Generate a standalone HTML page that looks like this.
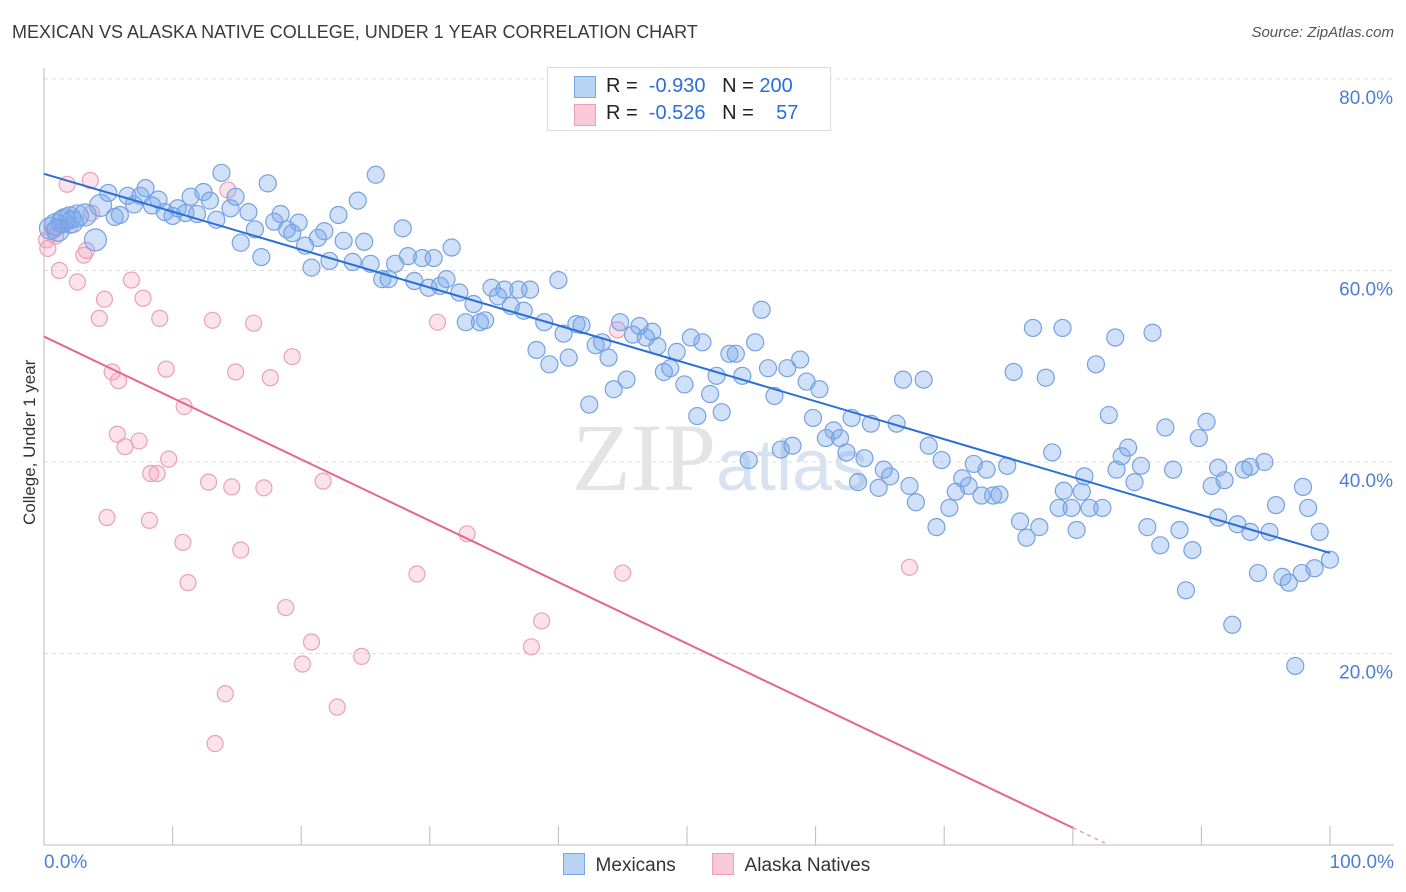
<!DOCTYPE html>
<html><head><meta charset="utf-8">
<style>
body{margin:0;background:#fff;font-family:"Liberation Sans",sans-serif;}
#wrap{position:relative;width:1406px;height:892px;overflow:hidden;}
.t{position:absolute;white-space:nowrap;}
</style></head>
<body>
<div id="wrap">
<div class="t" style="left:12px;top:22px;font-size:18px;color:#3a3a3a;">MEXICAN VS ALASKA NATIVE COLLEGE, UNDER 1 YEAR CORRELATION CHART</div>
<div class="t" style="right:12px;top:24px;font-size:15px;color:#555;font-style:italic;">Source: ZipAtlas.com</div>
<svg id="svg" width="1406" height="892" style="position:absolute;left:0;top:0"></svg>
</div>
<script>
const xTickVals=[0,10,20,30,40,50,60,70,80,90,100];
const yTickVals=[20,40,60,80];
const yTickLabels=["20.0%","40.0%","60.0%","80.0%"];
const blueX=[0.5,0.9,1.4,2.0,2.6,3.2,4.0,1.6,2.2,1.1,4.4,5.0,5.5,5.9,6.5,7.0,7.5,7.9,8.4,8.9,9.4,10.0,10.4,11.0,11.4,11.9,12.4,12.9,13.4,13.8,14.5,14.9,15.3,15.9,16.4,16.9,17.4,17.9,18.4,18.9,19.3,19.8,20.3,20.8,21.3,21.8,22.2,22.9,23.3,24.0,24.4,24.9,25.4,25.8,26.3,26.8,27.3,27.9,28.3,28.8,29.4,29.9,30.3,30.8,31.3,31.7,32.3,32.8,33.4,33.9,34.3,34.8,35.3,35.8,36.3,36.9,37.3,37.8,38.3,38.9,39.3,40.0,40.4,40.8,41.4,41.8,42.4,42.9,43.4,43.9,44.3,44.8,45.3,45.8,46.3,46.8,47.3,47.7,48.2,48.7,49.2,49.8,50.3,50.8,51.2,51.8,52.3,52.7,53.3,53.8,54.3,54.8,55.3,55.8,56.3,56.8,57.3,57.8,58.2,58.8,59.3,59.8,60.3,60.8,61.4,61.9,62.4,62.8,63.3,63.8,64.3,64.9,65.3,65.8,66.3,66.8,67.3,67.8,68.4,68.8,69.4,69.8,70.4,70.9,71.4,71.9,72.3,72.9,73.3,73.8,74.3,74.9,75.4,75.9,76.4,76.9,77.4,77.9,78.4,78.9,79.3,79.9,80.3,80.9,81.3,81.8,82.3,82.8,83.4,83.8,84.3,84.8,85.3,85.8,86.2,86.8,87.2,87.8,88.3,88.8,89.3,89.8,90.4,90.8,91.3,91.8,92.4,92.8,93.3,93.8,94.4,94.9,95.3,95.8,96.3,96.8,97.3,97.8,98.3,98.8,99.2,100.0,83.3,79.2,80.7,93.8,91.3,97.9];
const blueY=[64.4,64.8,65.1,65.5,65.7,65.8,63.2,65.3,65.1,64.2,66.8,68.1,65.6,65.8,67.8,66.9,67.8,68.6,66.8,67.4,66.1,65.7,66.5,66.0,67.7,65.9,68.2,67.3,65.3,70.2,66.5,67.7,62.9,66.1,64.3,61.4,69.1,65.1,65.9,64.3,63.9,65.0,62.6,60.3,63.4,64.1,61.0,65.8,63.1,60.9,67.3,63.0,60.7,70.0,59.1,59.1,60.7,64.4,61.5,58.9,61.3,58.2,61.3,58.4,59.1,62.4,57.7,54.6,56.5,54.6,54.8,58.2,57.3,58.0,56.3,58.0,55.8,58.0,51.7,54.6,50.2,59.0,53.4,50.9,54.4,54.3,46.0,52.2,52.5,50.9,47.6,54.6,48.6,53.3,54.2,53.0,53.6,52.1,49.4,49.8,51.5,48.1,53.0,44.8,52.5,47.1,49.0,45.2,51.3,51.3,49.0,40.2,52.5,55.9,49.8,46.9,41.3,49.8,41.7,50.7,48.4,44.6,47.6,42.5,43.3,42.5,41.0,44.6,37.9,40.4,44.0,37.3,39.2,38.5,44.0,48.6,37.5,35.8,48.6,41.7,33.2,40.2,35.2,36.9,38.3,37.5,39.8,36.5,39.2,36.5,36.6,39.6,49.4,33.8,32.1,54.0,33.2,48.8,41.0,35.2,37.0,35.2,32.9,38.5,35.2,50.2,35.2,44.9,39.2,40.6,41.5,37.9,39.6,33.2,53.5,31.3,43.6,39.2,32.9,26.6,30.8,42.5,44.2,37.5,34.2,38.1,23.0,33.5,39.2,32.7,28.4,40.0,32.7,35.5,28.0,27.4,18.7,28.4,35.2,28.9,32.7,29.8,53.0,54.0,36.9,39.5,39.4,37.4];
const pinkX=[1.8,3.6,0.7,0.2,0.9,1.2,2.6,3.3,3.1,3.7,6.8,7.7,4.7,4.3,9.0,13.1,16.3,14.3,5.3,5.8,9.5,14.9,17.6,19.3,10.9,5.7,7.4,6.3,9.7,8.3,8.8,12.8,14.6,17.1,21.7,30.6,44.6,4.9,8.2,10.8,15.3,11.2,18.8,20.8,20.1,24.7,32.9,29.0,45.0,38.7,37.9,14.1,22.8,13.3,67.3,0.3,2.0];
const pinkY=[69.0,69.4,64.2,63.2,63.6,60.0,58.8,62.1,61.6,66.0,59.0,57.1,57.0,55.0,55.0,54.8,54.5,68.4,49.4,48.5,49.7,49.4,48.8,51.0,45.8,42.9,42.2,41.6,40.3,38.8,38.8,37.9,37.4,37.3,38.0,54.6,53.8,34.2,33.9,31.6,30.8,27.4,24.8,21.2,18.9,19.7,32.5,28.3,28.4,23.4,20.7,15.8,14.4,10.6,29.0,62.3,64.7];
const blueTrend=[70.1,30.5];
const pinkTrend=[53.1,1.8]; // at x=0 and x=80
const svg=document.getElementById('svg');
const NS='http://www.w3.org/2000/svg';
const X0=44,X1=1330,Y0=845,Y80=79;
const sx=v=>X0+(X1-X0)*v/100;
const sy=v=>Y0-(Y0-Y80)*v/80;
function mk(tag,attrs){const e=document.createElementNS(NS,tag);for(const k in attrs)e.setAttribute(k,attrs[k]);svg.appendChild(e);return e;}
// gridlines
yTickVals.forEach((v,i)=>{
 const g=mk('line',{x1:44,x2:1394,y1:sy(v),y2:sy(v),stroke:'#dcdcdc','stroke-dasharray':'4,4','stroke-width':1});
 
 
 const t=mk('text',{x:1393,y:sy(v)+25,'text-anchor':'end','font-size':19,fill:'#4a7fd4','font-family':'Liberation Sans, sans-serif'});
 t.textContent=yTickLabels[i];
 
 
});
// axes
const ya=mk('line',{x1:44,x2:44,y1:68,y2:845,stroke:'#bbb'});


const xa=mk('line',{x1:44,x2:1394,y1:845,y2:845,stroke:'#bbb'});


xTickVals.forEach(v=>{
 const l=mk('line',{x1:sx(v),x2:sx(v),y1:826,y2:845,stroke:'#bbb'});
 
 
});
// watermark
const wm=mk('text',{x:720,y:490,'text-anchor':'middle','font-size':96,fill:'#e4e4e4','font-family':'Liberation Serif, serif'});
wm.innerHTML='ZIP<tspan fill="#d8e3f2" font-family="Liberation Sans, sans-serif" font-size="72">atlas</tspan>';


// points
pinkX.forEach((x,i)=>{
 const c=mk('circle',{cx:sx(x),cy:sy(pinkY[i]),r:8,fill:'rgba(244,160,190,0.3)',stroke:'#eaa0bb','stroke-width':1.2});
 
 
});
blueX.forEach((x,i)=>{
 const r=x<5?11:8.5;
 const c=mk('circle',{cx:sx(x),cy:sy(blueY[i]),r:r,fill:'rgba(120,165,235,0.35)',stroke:'#76a2e2','stroke-width':1.2});
 
 
});
// trend lines
const bl=mk('line',{x1:sx(0),y1:sy(blueTrend[0]),x2:sx(100),y2:sy(blueTrend[1]),stroke:'#2a6fd6','stroke-width':2});


const slope=(pinkTrend[1]-pinkTrend[0])/80;
const pl=mk('line',{x1:sx(0),y1:sy(pinkTrend[0]),x2:sx(80),y2:sy(pinkTrend[1]),stroke:'#e5658f','stroke-width':2});


const pd=mk('line',{x1:sx(80),y1:sy(pinkTrend[1]),x2:sx(82.5),y2:sy(pinkTrend[0]+slope*82.5),stroke:'#e5a0b8','stroke-width':1.5,'stroke-dasharray':'4,4'});


</script>
<div class="t" style="left:-40px;top:445px;font-size:17px;color:#333;transform:rotate(-90deg);transform-origin:center;width:140px;text-align:center;">College, Under 1 year</div>
<div class="t" style="left:44px;top:852px;font-size:19px;color:#4a7fd4;">0.0%</div>
<div class="t" style="right:12px;top:852px;font-size:19px;color:#4a7fd4;">100.0%</div>
<div style="position:absolute;left:547px;top:67px;width:282px;height:62px;border:1px solid #ddd;background:#fff;font-size:20px;">
 <div style="position:absolute;left:26px;top:8px;width:20px;height:20px;background:#b9d3f5;border:1px solid #7aa6e4;"></div>
 <div class="t" style="left:58px;top:7px;color:#222;">R = <span style="color:#2a6fd6">&nbsp;-0.930</span>&nbsp;&nbsp;&nbsp;N = <span style="color:#2a6fd6">200</span></div>
 <div style="position:absolute;left:26px;top:36px;width:20px;height:20px;background:#fac9d8;border:1px solid #eaa0bb;"></div>
 <div class="t" style="left:58px;top:34px;color:#222;">R = <span style="color:#2a6fd6">&nbsp;-0.526</span>&nbsp;&nbsp;&nbsp;N = <span style="color:#2a6fd6">&nbsp;&nbsp;&nbsp;57</span></div>
</div>
<div style="position:absolute;left:563px;top:853px;font-size:19px;color:#333;">
 <span style="display:inline-block;width:20px;height:20px;background:#b9d3f5;border:1px solid #7aa6e4;vertical-align:-4px;"></span>&nbsp;&nbsp;Mexicans</div>
<div style="position:absolute;left:712px;top:853px;font-size:19px;color:#333;">
 <span style="display:inline-block;width:20px;height:20px;background:#fac9d8;border:1px solid #eaa0bb;vertical-align:-4px;"></span>&nbsp;&nbsp;Alaska Natives</div>
</body></html>
